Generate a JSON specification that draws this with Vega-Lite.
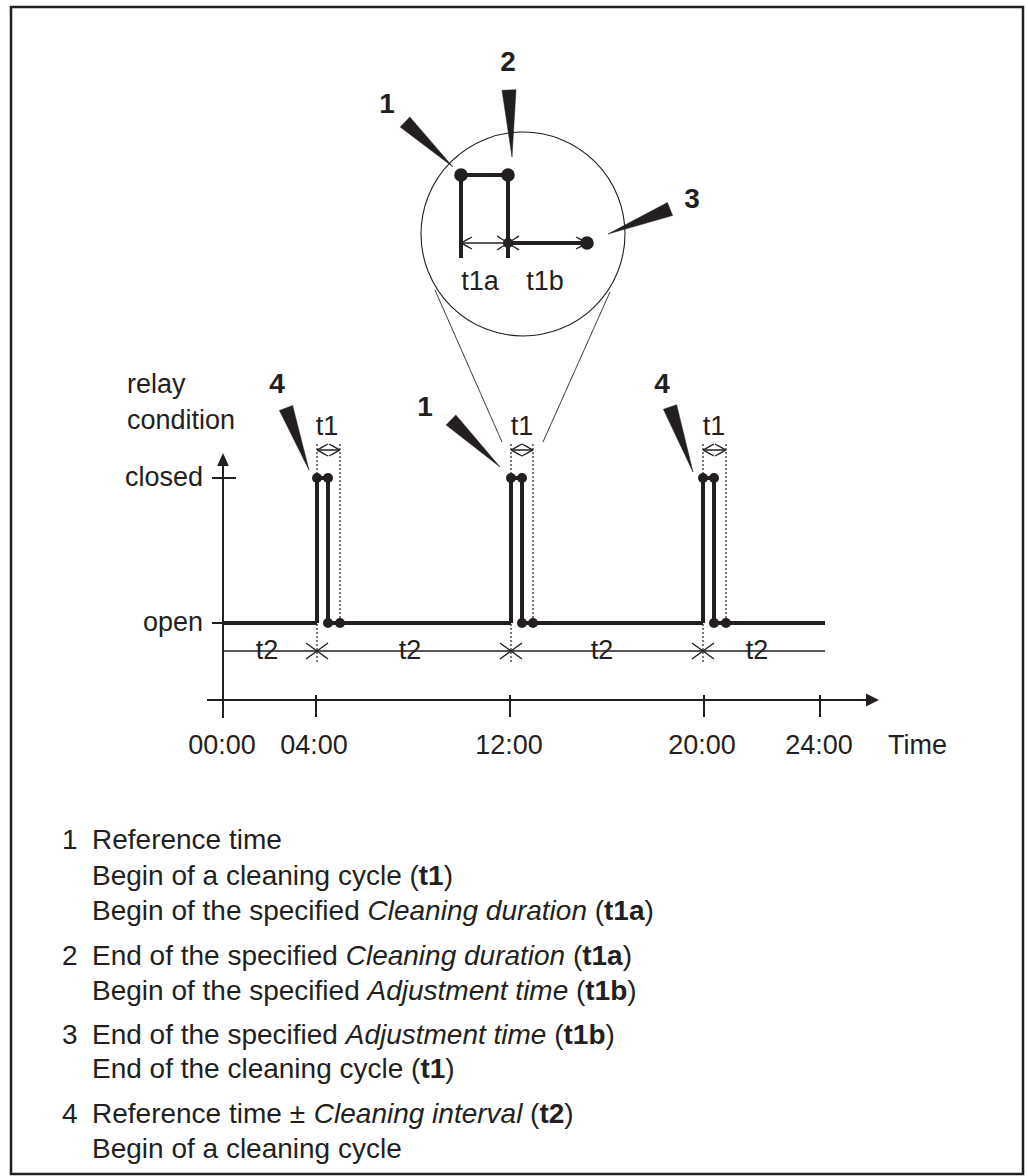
{
  "$schema": "https://vega.github.io/schema/vega-lite/v6.json",
  "width": 1028,
  "height": 1176,
  "padding": 0,
  "autosize": {"type": "none"},
  "background": "white",
  "view": {"stroke": null},
  "config": {"text": {"font": "Liberation Sans", "color": "#231f20"}},
  "datasets": {
    "frame": [{"x": 11, "y": 7, "x2": 1023, "y2": 1174}],
    "segs": [
      {"kind": "sig", "x": 223, "y": 623, "x2": 317, "y2": 623},
      {"kind": "sig", "x": 317, "y": 623, "x2": 317, "y2": 478},
      {"kind": "sig", "x": 317, "y": 478, "x2": 328, "y2": 478},
      {"kind": "sig", "x": 328, "y": 478, "x2": 328, "y2": 623},
      {"kind": "sig", "x": 328, "y": 623, "x2": 511, "y2": 623},
      {"kind": "sig", "x": 511, "y": 623, "x2": 511, "y2": 478},
      {"kind": "sig", "x": 511, "y": 478, "x2": 522, "y2": 478},
      {"kind": "sig", "x": 522, "y": 478, "x2": 522, "y2": 623},
      {"kind": "sig", "x": 522, "y": 623, "x2": 703, "y2": 623},
      {"kind": "sig", "x": 703, "y": 623, "x2": 703, "y2": 478},
      {"kind": "sig", "x": 703, "y": 478, "x2": 714, "y2": 478},
      {"kind": "sig", "x": 714, "y": 478, "x2": 714, "y2": 623},
      {"kind": "sig", "x": 714, "y": 623, "x2": 825, "y2": 623},
      {"kind": "sig", "x": 461, "y": 258, "x2": 461, "y2": 175},
      {"kind": "sig", "x": 461, "y": 175, "x2": 508, "y2": 175},
      {"kind": "sig", "x": 508, "y": 175, "x2": 508, "y2": 258},
      {"kind": "sig", "x": 508, "y": 243, "x2": 587, "y2": 243},
      {"kind": "axis", "x": 223, "y": 462, "x2": 223, "y2": 718},
      {"kind": "axis", "x": 207, "y": 700, "x2": 868, "y2": 700},
      {"kind": "axis", "x": 316, "y": 695, "x2": 316, "y2": 717},
      {"kind": "axis", "x": 510, "y": 695, "x2": 510, "y2": 717},
      {"kind": "axis", "x": 704, "y": 695, "x2": 704, "y2": 717},
      {"kind": "axis", "x": 820, "y": 695, "x2": 820, "y2": 717},
      {"kind": "axis", "x": 212, "y": 478, "x2": 236, "y2": 478},
      {"kind": "axis", "x": 212, "y": 623, "x2": 223, "y2": 623},
      {"kind": "thin", "x": 223, "y": 651, "x2": 825, "y2": 651},
      {"kind": "thin", "x": 306, "y": 643, "x2": 328, "y2": 659},
      {"kind": "thin", "x": 306, "y": 659, "x2": 328, "y2": 643},
      {"kind": "thin", "x": 500, "y": 643, "x2": 522, "y2": 659},
      {"kind": "thin", "x": 500, "y": 659, "x2": 522, "y2": 643},
      {"kind": "thin", "x": 692, "y": 643, "x2": 714, "y2": 659},
      {"kind": "thin", "x": 692, "y": 659, "x2": 714, "y2": 643},
      {"kind": "thin", "x": 317, "y": 450, "x2": 340, "y2": 450},
      {"kind": "thin", "x": 317, "y": 450, "x2": 328, "y2": 444},
      {"kind": "thin", "x": 317, "y": 450, "x2": 328, "y2": 456},
      {"kind": "thin", "x": 340, "y": 450, "x2": 329, "y2": 444},
      {"kind": "thin", "x": 340, "y": 450, "x2": 329, "y2": 456},
      {"kind": "thin", "x": 511, "y": 450, "x2": 533, "y2": 450},
      {"kind": "thin", "x": 511, "y": 450, "x2": 522, "y2": 444},
      {"kind": "thin", "x": 511, "y": 450, "x2": 522, "y2": 456},
      {"kind": "thin", "x": 533, "y": 450, "x2": 522, "y2": 444},
      {"kind": "thin", "x": 533, "y": 450, "x2": 522, "y2": 456},
      {"kind": "thin", "x": 703, "y": 450, "x2": 726, "y2": 450},
      {"kind": "thin", "x": 703, "y": 450, "x2": 714, "y2": 444},
      {"kind": "thin", "x": 703, "y": 450, "x2": 714, "y2": 456},
      {"kind": "thin", "x": 726, "y": 450, "x2": 715, "y2": 444},
      {"kind": "thin", "x": 726, "y": 450, "x2": 715, "y2": 456},
      {"kind": "thin", "x": 461, "y": 243, "x2": 508, "y2": 243},
      {"kind": "thin", "x": 461, "y": 243, "x2": 472, "y2": 237},
      {"kind": "thin", "x": 461, "y": 243, "x2": 472, "y2": 249},
      {"kind": "thin", "x": 497, "y": 236, "x2": 519, "y2": 250},
      {"kind": "thin", "x": 497, "y": 250, "x2": 519, "y2": 236},
      {"kind": "thin", "x": 576, "y": 237, "x2": 587, "y2": 243},
      {"kind": "thin", "x": 576, "y": 249, "x2": 587, "y2": 243},
      {"kind": "dot", "x": 317, "y": 444, "x2": 317, "y2": 663},
      {"kind": "dot", "x": 340, "y": 444, "x2": 340, "y2": 623},
      {"kind": "dot", "x": 511, "y": 444, "x2": 511, "y2": 663},
      {"kind": "dot", "x": 533, "y": 444, "x2": 533, "y2": 623},
      {"kind": "dot", "x": 703, "y": 444, "x2": 703, "y2": 663},
      {"kind": "dot", "x": 726, "y": 444, "x2": 726, "y2": 623},
      {"kind": "hair", "x": 435, "y": 290, "x2": 502, "y2": 442},
      {"kind": "hair", "x": 610, "y": 292, "x2": 543, "y2": 442}
    ],
    "dots": [
      {"kind": "small", "x": 317, "y": 478}, {"kind": "small", "x": 328, "y": 478},
      {"kind": "small", "x": 328, "y": 623}, {"kind": "small", "x": 340, "y": 623},
      {"kind": "small", "x": 511, "y": 478}, {"kind": "small", "x": 522, "y": 478},
      {"kind": "small", "x": 522, "y": 623}, {"kind": "small", "x": 533, "y": 623},
      {"kind": "small", "x": 703, "y": 478}, {"kind": "small", "x": 714, "y": 478},
      {"kind": "small", "x": 714, "y": 623}, {"kind": "small", "x": 726, "y": 623},
      {"kind": "small", "x": 508, "y": 243},
      {"kind": "large", "x": 461, "y": 175}, {"kind": "large", "x": 508, "y": 175},
      {"kind": "large", "x": 587, "y": 243}
    ],
    "wedges": [
      {"w": "4a", "o": 0, "x": 279.4, "y": 410.4}, {"w": "4a", "o": 1, "x": 292.6, "y": 405.6}, {"w": "4a", "o": 2, "x": 309, "y": 470},
      {"w": "1a", "o": 0, "x": 446.2, "y": 425.1}, {"w": "1a", "o": 1, "x": 455.8, "y": 414.9}, {"w": "1a", "o": 2, "x": 500, "y": 467},
      {"w": "4b", "o": 0, "x": 663.4, "y": 409.3}, {"w": "4b", "o": 1, "x": 676.6, "y": 404.7}, {"w": "4b", "o": 2, "x": 693, "y": 472},
      {"w": "1z", "o": 0, "x": 400.2, "y": 127.1}, {"w": "1z", "o": 1, "x": 409.8, "y": 116.9}, {"w": "1z", "o": 2, "x": 453, "y": 167},
      {"w": "2z", "o": 0, "x": 502, "y": 90.3}, {"w": "2z", "o": 1, "x": 516, "y": 89.7}, {"w": "2z", "o": 2, "x": 512, "y": 157},
      {"w": "3z", "o": 0, "x": 667.4, "y": 202.5}, {"w": "3z", "o": 1, "x": 672.6, "y": 215.5}, {"w": "3z", "o": 2, "x": 608, "y": 234}
    ],
    "circ": [{"x": 523, "y": 234}],
    "heads": [{"dir": "up", "x": 223, "y": 459.5}, {"dir": "right", "x": 872.5, "y": 700}],
    "texts": [
      {"role": "callout", "x": 277, "y": 385, "t": "4"},
      {"role": "callout", "x": 425, "y": 408, "t": "1"},
      {"role": "callout", "x": 662, "y": 385, "t": "4"},
      {"role": "callout", "x": 387, "y": 105, "t": "1"},
      {"role": "callout", "x": 508, "y": 63, "t": "2"},
      {"role": "callout", "x": 692, "y": 200, "t": "3"},
      {"role": "center", "x": 327, "y": 427, "t": "t1"},
      {"role": "center", "x": 522, "y": 427, "t": "t1"},
      {"role": "center", "x": 714, "y": 427, "t": "t1"},
      {"role": "center", "x": 480, "y": 282, "t": "t1a"},
      {"role": "center", "x": 545, "y": 282, "t": "t1b"},
      {"role": "center", "x": 267, "y": 651, "t": "t2"},
      {"role": "center", "x": 410, "y": 651, "t": "t2"},
      {"role": "center", "x": 602, "y": 651, "t": "t2"},
      {"role": "center", "x": 757, "y": 651, "t": "t2"},
      {"role": "center", "x": 222, "y": 746, "t": "00:00"},
      {"role": "center", "x": 314, "y": 746, "t": "04:00"},
      {"role": "center", "x": 509, "y": 746, "t": "12:00"},
      {"role": "center", "x": 702, "y": 746, "t": "20:00"},
      {"role": "center", "x": 819, "y": 746, "t": "24:00"},
      {"role": "left", "x": 888, "y": 746, "t": "Time"},
      {"role": "left", "x": 127, "y": 385, "t": "relay"},
      {"role": "left", "x": 127, "y": 421, "t": "condition"},
      {"role": "right", "x": 203, "y": 478, "t": "closed"},
      {"role": "right", "x": 203, "y": 623, "t": "open"}
    ],
    "legend": [
      {"role": "reg", "x": 62, "y": 841, "t": "1"},
      {"role": "reg", "x": 92, "y": 841, "t": "Reference time"},
      {"role": "reg", "x": 92, "y": 877, "t": "Begin of a cleaning cycle ("},
      {"role": "bold", "x": 418.8, "y": 877, "t": "t1"},
      {"role": "reg", "x": 443.7, "y": 877, "t": ")"},
      {"role": "reg", "x": 92, "y": 912, "t": "Begin of the specified"},
      {"role": "ital", "x": 367.5, "y": 912, "t": "Cleaning duration"},
      {"role": "reg", "x": 594.7, "y": 912, "t": "("},
      {"role": "bold", "x": 604, "y": 912, "t": "t1a"},
      {"role": "reg", "x": 644.5, "y": 912, "t": ")"},
      {"role": "reg", "x": 62, "y": 957, "t": "2"},
      {"role": "reg", "x": 92, "y": 957, "t": "End of the specified"},
      {"role": "ital", "x": 345.7, "y": 957, "t": "Cleaning duration"},
      {"role": "reg", "x": 572.9, "y": 957, "t": "("},
      {"role": "bold", "x": 582.2, "y": 957, "t": "t1a"},
      {"role": "reg", "x": 622.7, "y": 957, "t": ")"},
      {"role": "reg", "x": 92, "y": 992, "t": "Begin of the specified"},
      {"role": "ital", "x": 367.5, "y": 992, "t": "Adjustment time"},
      {"role": "reg", "x": 576, "y": 992, "t": "("},
      {"role": "bold", "x": 585.3, "y": 992, "t": "t1b"},
      {"role": "reg", "x": 627.3, "y": 992, "t": ")"},
      {"role": "reg", "x": 62, "y": 1036, "t": "3"},
      {"role": "reg", "x": 92, "y": 1036, "t": "End of the specified"},
      {"role": "ital", "x": 345.7, "y": 1036, "t": "Adjustment time"},
      {"role": "reg", "x": 554.2, "y": 1036, "t": "("},
      {"role": "bold", "x": 563.5, "y": 1036, "t": "t1b"},
      {"role": "reg", "x": 605.5, "y": 1036, "t": ")"},
      {"role": "reg", "x": 92, "y": 1070, "t": "End of the cleaning cycle ("},
      {"role": "bold", "x": 420.4, "y": 1070, "t": "t1"},
      {"role": "reg", "x": 445.3, "y": 1070, "t": ")"},
      {"role": "reg", "x": 62, "y": 1115, "t": "4"},
      {"role": "reg", "x": 92, "y": 1115, "t": "Reference time ±"},
      {"role": "ital", "x": 313.8, "y": 1115, "t": "Cleaning interval"},
      {"role": "reg", "x": 530.1, "y": 1115, "t": "("},
      {"role": "bold", "x": 539.4, "y": 1115, "t": "t2"},
      {"role": "reg", "x": 564.3, "y": 1115, "t": ")"},
      {"role": "reg", "x": 92, "y": 1150, "t": "Begin of a cleaning cycle"}
    ]
  },
  "layer": [
    {
      "data": {"name": "frame"},
      "mark": {"type": "rect", "filled": false, "color": "#231f20", "strokeWidth": 2.5},
      "encoding": {
        "x": {"field": "x", "type": "quantitative", "scale": {"domain": [0, 1028], "nice": false, "zero": false}, "axis": null},
        "y": {"field": "y", "type": "quantitative", "scale": {"domain": [0, 1176], "nice": false, "zero": false, "reverse": true}, "axis": null},
        "x2": {"field": "x2"},
        "y2": {"field": "y2"}
      }
    },
    {
      "data": {"name": "circ"},
      "mark": {"type": "point", "shape": "circle", "size": 41616, "filled": false, "color": "#231f20", "strokeWidth": 1.1, "opacity": 1},
      "encoding": {
        "x": {"field": "x", "type": "quantitative", "scale": {"domain": [0, 1028], "nice": false, "zero": false}, "axis": null},
        "y": {"field": "y", "type": "quantitative", "scale": {"domain": [0, 1176], "nice": false, "zero": false, "reverse": true}, "axis": null}
      }
    },
    {
      "data": {"name": "segs"},
      "mark": {"type": "rule", "color": "#231f20"},
      "encoding": {
        "x": {"field": "x", "type": "quantitative", "scale": {"domain": [0, 1028], "nice": false, "zero": false}, "axis": null},
        "y": {"field": "y", "type": "quantitative", "scale": {"domain": [0, 1176], "nice": false, "zero": false, "reverse": true}, "axis": null},
        "x2": {"field": "x2"},
        "y2": {"field": "y2"},
        "strokeWidth": {"field": "kind", "type": "nominal", "scale": {"type": "ordinal", "domain": ["sig", "axis", "thin", "dot", "hair"], "range": [4, 2, 1.3, 1.2, 1]}, "legend": null},
        "strokeDash": {"field": "kind", "type": "nominal", "scale": {"domain": ["sig", "axis", "thin", "dot", "hair"], "range": [[1, 0], [1, 0], [1, 0], [2, 2], [1, 0]]}, "legend": null}
      }
    },
    {
      "data": {"name": "wedges"},
      "mark": {"type": "line", "interpolate": "linear-closed", "fill": "#231f20", "stroke": "#231f20", "strokeWidth": 0.5, "strokeJoin": "miter"},
      "encoding": {
        "x": {"field": "x", "type": "quantitative", "scale": {"domain": [0, 1028], "nice": false, "zero": false}, "axis": null},
        "y": {"field": "y", "type": "quantitative", "scale": {"domain": [0, 1176], "nice": false, "zero": false, "reverse": true}, "axis": null},
        "detail": {"field": "w", "type": "nominal"},
        "order": {"field": "o", "type": "quantitative"}
      }
    },
    {
      "data": {"name": "dots"},
      "mark": {"type": "point", "shape": "circle", "filled": true, "color": "#231f20", "opacity": 1},
      "encoding": {
        "x": {"field": "x", "type": "quantitative", "scale": {"domain": [0, 1028], "nice": false, "zero": false}, "axis": null},
        "y": {"field": "y", "type": "quantitative", "scale": {"domain": [0, 1176], "nice": false, "zero": false, "reverse": true}, "axis": null},
        "size": {"field": "kind", "type": "nominal", "scale": {"type": "ordinal", "domain": ["small", "large"], "range": [100, 185]}, "legend": null}
      }
    },
    {
      "data": {"name": "heads"},
      "mark": {"type": "point", "filled": true, "color": "#231f20", "opacity": 1, "size": 169},
      "encoding": {
        "x": {"field": "x", "type": "quantitative", "scale": {"domain": [0, 1028], "nice": false, "zero": false}, "axis": null},
        "y": {"field": "y", "type": "quantitative", "scale": {"domain": [0, 1176], "nice": false, "zero": false, "reverse": true}, "axis": null},
        "shape": {"field": "dir", "type": "nominal", "scale": {"domain": ["up", "right"], "range": ["M0,-1L0.9,1L-0.9,1Z", "M1,0L-1,-1L-1,1Z"]}, "legend": null}
      }
    },
    {
      "data": {"name": "texts"},
      "transform": [{"filter": "datum.role === 'callout'"}],
      "mark": {"type": "text", "fontSize": 28, "fontWeight": "bold", "align": "center", "baseline": "middle"},
      "encoding": {
        "x": {"field": "x", "type": "quantitative", "scale": {"domain": [0, 1028], "nice": false, "zero": false}, "axis": null},
        "y": {"field": "y", "type": "quantitative", "scale": {"domain": [0, 1176], "nice": false, "zero": false, "reverse": true}, "axis": null},
        "text": {"field": "t"}
      }
    },
    {
      "data": {"name": "texts"},
      "transform": [{"filter": "datum.role === 'center'"}],
      "mark": {"type": "text", "fontSize": 27, "align": "center", "baseline": "middle"},
      "encoding": {
        "x": {"field": "x", "type": "quantitative", "scale": {"domain": [0, 1028], "nice": false, "zero": false}, "axis": null},
        "y": {"field": "y", "type": "quantitative", "scale": {"domain": [0, 1176], "nice": false, "zero": false, "reverse": true}, "axis": null},
        "text": {"field": "t"}
      }
    },
    {
      "data": {"name": "texts"},
      "transform": [{"filter": "datum.role === 'left'"}],
      "mark": {"type": "text", "fontSize": 27, "align": "left", "baseline": "middle"},
      "encoding": {
        "x": {"field": "x", "type": "quantitative", "scale": {"domain": [0, 1028], "nice": false, "zero": false}, "axis": null},
        "y": {"field": "y", "type": "quantitative", "scale": {"domain": [0, 1176], "nice": false, "zero": false, "reverse": true}, "axis": null},
        "text": {"field": "t"}
      }
    },
    {
      "data": {"name": "texts"},
      "transform": [{"filter": "datum.role === 'right'"}],
      "mark": {"type": "text", "fontSize": 27, "align": "right", "baseline": "middle"},
      "encoding": {
        "x": {"field": "x", "type": "quantitative", "scale": {"domain": [0, 1028], "nice": false, "zero": false}, "axis": null},
        "y": {"field": "y", "type": "quantitative", "scale": {"domain": [0, 1176], "nice": false, "zero": false, "reverse": true}, "axis": null},
        "text": {"field": "t"}
      }
    },
    {
      "data": {"name": "legend"},
      "transform": [{"filter": "datum.role === 'reg'"}],
      "mark": {"type": "text", "fontSize": 28, "align": "left", "baseline": "middle"},
      "encoding": {
        "x": {"field": "x", "type": "quantitative", "scale": {"domain": [0, 1028], "nice": false, "zero": false}, "axis": null},
        "y": {"field": "y", "type": "quantitative", "scale": {"domain": [0, 1176], "nice": false, "zero": false, "reverse": true}, "axis": null},
        "text": {"field": "t"}
      }
    },
    {
      "data": {"name": "legend"},
      "transform": [{"filter": "datum.role === 'bold'"}],
      "mark": {"type": "text", "fontSize": 28, "fontWeight": "bold", "align": "left", "baseline": "middle"},
      "encoding": {
        "x": {"field": "x", "type": "quantitative", "scale": {"domain": [0, 1028], "nice": false, "zero": false}, "axis": null},
        "y": {"field": "y", "type": "quantitative", "scale": {"domain": [0, 1176], "nice": false, "zero": false, "reverse": true}, "axis": null},
        "text": {"field": "t"}
      }
    },
    {
      "data": {"name": "legend"},
      "transform": [{"filter": "datum.role === 'ital'"}],
      "mark": {"type": "text", "fontSize": 28, "fontStyle": "italic", "align": "left", "baseline": "middle"},
      "encoding": {
        "x": {"field": "x", "type": "quantitative", "scale": {"domain": [0, 1028], "nice": false, "zero": false}, "axis": null},
        "y": {"field": "y", "type": "quantitative", "scale": {"domain": [0, 1176], "nice": false, "zero": false, "reverse": true}, "axis": null},
        "text": {"field": "t"}
      }
    }
  ]
}
